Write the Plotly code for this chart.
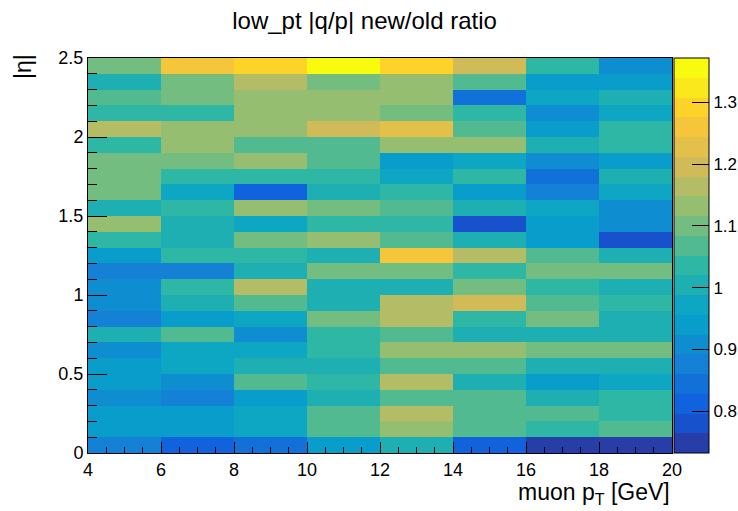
import plotly.graph_objects as go

# ---------------- data ----------------
pt_edges = [4, 6, 8, 10, 12, 14, 16, 18, 20]
eta_edges = [round(0.1 * i, 1) for i in range(26)]

# ratio values, one list per |eta| row (from eta=0 upward), 8 pT bins each
row_00 = [0.876, 0.812, 0.844, 0.940, 1.004, 0.812, 0.748, 0.748]
row_01 = [0.940, 0.940, 0.972, 1.068, 1.132, 1.068, 1.036, 1.068]
row_02 = [0.940, 0.940, 0.972, 1.068, 1.164, 1.068, 1.068, 1.036]
row_03 = [0.908, 0.876, 0.940, 1.004, 1.068, 1.068, 1.004, 1.036]
row_04 = [0.940, 0.908, 1.068, 1.036, 1.164, 1.004, 0.940, 0.972]
row_05 = [0.940, 0.972, 1.004, 1.004, 1.068, 1.068, 1.004, 1.004]
row_06 = [0.908, 0.972, 0.972, 1.036, 1.132, 1.132, 1.100, 1.100]
row_07 = [1.004, 1.068, 0.908, 1.036, 1.068, 1.004, 1.004, 1.004]
row_08 = [0.876, 0.940, 0.972, 1.100, 1.164, 1.036, 1.100, 1.004]
row_09 = [0.908, 1.004, 1.068, 1.004, 1.164, 1.196, 1.068, 1.036]
row_10 = [0.908, 1.036, 1.164, 1.004, 1.004, 1.100, 1.036, 1.004]
row_11 = [0.876, 0.876, 1.004, 1.100, 1.100, 1.036, 1.100, 1.100]
row_12 = [0.940, 1.036, 1.036, 1.004, 1.260, 1.164, 1.068, 1.004]
row_13 = [1.036, 1.004, 1.100, 1.132, 1.068, 1.004, 0.940, 0.780]
row_14 = [1.132, 1.004, 0.972, 1.036, 1.036, 0.780, 0.940, 0.908]
row_15 = [1.004, 1.036, 1.132, 1.100, 1.068, 1.004, 0.972, 0.908]
row_16 = [1.100, 0.972, 0.812, 1.004, 1.036, 0.940, 0.876, 0.972]
row_17 = [1.100, 1.036, 1.036, 1.036, 0.972, 1.036, 0.844, 1.004]
row_18 = [1.100, 1.100, 1.132, 1.068, 0.940, 0.972, 0.908, 0.940]
row_19 = [1.036, 1.132, 1.068, 1.068, 1.132, 1.132, 1.004, 1.036]
row_20 = [1.164, 1.132, 1.132, 1.196, 1.228, 1.068, 0.940, 1.036]
row_21 = [1.036, 1.036, 1.132, 1.132, 1.100, 1.036, 0.908, 0.972]
row_22 = [1.068, 1.100, 1.132, 1.132, 1.132, 0.844, 0.972, 1.004]
row_23 = [1.004, 1.100, 1.164, 1.100, 1.132, 1.068, 0.940, 0.940]
row_24 = [1.100, 1.260, 1.292, 1.356, 1.292, 1.196, 1.036, 0.908]

ratio = [row_00, row_01, row_02, row_03, row_04, row_05, row_06, row_07,
         row_08, row_09, row_10, row_11, row_12, row_13, row_14, row_15,
         row_16, row_17, row_18, row_19, row_20, row_21, row_22, row_23,
         row_24]

cbar_ticks = [0.8, 0.9, 1.0, 1.1, 1.2, 1.3]
cbar_labels = ["0.8", "0.9", "1", "1.1", "1.2", "1.3"]

# ---------------- ROOT kBird palette, 20 contour bands ----------------
stops = [0.0, 0.125, 0.25, 0.375, 0.5, 0.625, 0.75, 0.875, 1.0]
red = [0.2082, 0.0592, 0.0780, 0.0232, 0.1802, 0.5301, 0.8186, 0.9956, 0.9764]
green = [0.1664, 0.3599, 0.5041, 0.6419, 0.7178, 0.7492, 0.7328, 0.7862, 0.9832]
blue = [0.5293, 0.8684, 0.8385, 0.7914, 0.6425, 0.4662, 0.3499, 0.1968, 0.0539]


def bird(p):
    for i in range(len(stops) - 1):
        if stops[i] <= p <= stops[i + 1]:
            t = (p - stops[i]) / (stops[i + 1] - stops[i])
            r = red[i] + (red[i + 1] - red[i]) * t
            g = green[i] + (green[i + 1] - green[i]) * t
            b = blue[i] + (blue[i + 1] - blue[i]) * t
            return "rgb(%d,%d,%d)" % (round(r * 255), round(g * 255), round(b * 255))
    return "rgb(249,251,14)"


nband = 20
colorscale = []
for k in range(nband):
    pos = int((k + 0.99) * 255 / nband) / 254.0
    c = bird(min(pos, 1.0))
    colorscale.append([k / nband, c])
    colorscale.append([(k + 1) / nband, c])

ZMIN, ZMAX = 0.732, 1.372

FONT = "Liberation Sans, Arial, Helvetica, sans-serif"

fig = go.Figure()
fig.add_trace(go.Heatmap(
    x=pt_edges, y=eta_edges, z=ratio,
    zmin=ZMIN, zmax=ZMAX, colorscale=colorscale,
    xgap=0, ygap=0, hoverongaps=False,
    colorbar=dict(
        x=(674 - 88) / 584, xanchor="left", xpad=0,
        y=0.5, yanchor="middle", ypad=0, len=1, lenmode="fraction",
        thickness=35, thicknessmode="pixels",
        outlinewidth=1, outlinecolor="black",
        tickvals=cbar_ticks, ticktext=cbar_labels,
        ticks="inside", ticklen=17, tickcolor="black", tickwidth=1,
        tickfont=dict(family=FONT, size=17, color="black"),
    ),
))

fig.update_layout(
    width=738, height=511,
    margin=dict(l=88, r=66, t=58, b=58, autoexpand=False),
    paper_bgcolor="white", plot_bgcolor="white",
    font=dict(family=FONT, color="black"),
    title=dict(text="low_pt |q/p| new/old ratio", x=0.494, xanchor="center",
               xref="container", y=1 - 21 / 511, yanchor="middle",
               font=dict(family=FONT, size=24, color="black")),
    xaxis=dict(range=[4, 20], tickvals=pt_edges, showgrid=False, zeroline=False,
               showline=True, linecolor="black", linewidth=1, mirror=True,
               ticks="inside", ticklen=11, tickcolor="black",
               minor=dict(dtick=0.5, ticks="inside", ticklen=6, tickcolor="black"),
               tickfont=dict(family=FONT, size=18, color="black")),
    yaxis=dict(range=[0, 2.5], tickvals=[0, 0.5, 1, 1.5, 2, 2.5],
               ticktext=["0", "0.5", "1", "1.5", "2", "2.5"],
               showgrid=False, zeroline=False,
               showline=True, linecolor="black", linewidth=1, mirror=True,
               ticks="inside", ticklen=19, tickcolor="black",
               minor=dict(dtick=0.1, ticks="inside", ticklen=9, tickcolor="black"),
               tickfont=dict(family=FONT, size=18, color="black")),
    annotations=[
        dict(text="muon p<sub>T</sub> [GeV]", xref="paper", yref="paper",
             x=1.0, y=(453 - 493) / 395, xanchor="right", yanchor="middle",
             showarrow=False, font=dict(family=FONT, size=23, color="black")),
        dict(text="|η|", xref="paper", yref="paper",
             x=(23 - 88) / 584, y=(453 - 67) / 395, xanchor="center", yanchor="middle",
             textangle=-90, showarrow=False,
             font=dict(family=FONT, size=23, color="black")),
    ],
)

fig.write_html("out.html")
